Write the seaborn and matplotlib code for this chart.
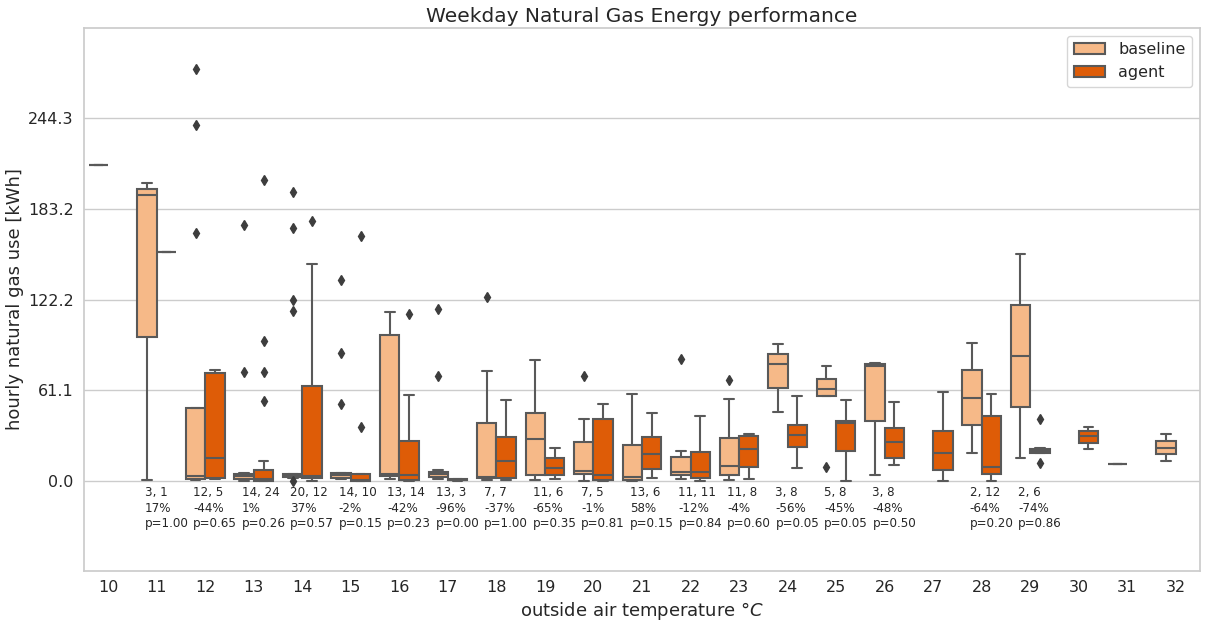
import numpy as np
import pandas as pd
import matplotlib
matplotlib.use('Agg')
import matplotlib.pyplot as plt
import seaborn as sns

# outside air temperature categories
temps = list(range(10, 33))

# hourly natural gas use [kWh] per temperature
baseline_use = {
    10: [212.7],
    11: [0.9, 192.7, 200.9],
    12: [0.6, 1.0, 1.4, 1.7, 2.5, 3.2, 4.2, 6.0, 10.3, 167.1, 239.6, 277.3],
    13: [0.3, 0.8, 1.2, 1.4, 1.9, 2.6, 3.4, 4.0, 4.3, 4.5, 4.7, 5.2, 73.3, 172.2],
    14: [0.0, 2.4, 2.7, 2.9, 3.0, 3.1, 3.3, 3.5, 3.6, 3.8, 3.9, 4.1, 4.3, 4.5, 4.6, 4.8,
         114.6, 122.0, 170.2, 194.5],
    15: [1.3, 1.8, 2.1, 2.3, 2.7, 3.4, 4.2, 4.6, 4.9, 5.1, 5.37, 51.8, 86.1, 135.4],
    16: [1.5, 2.5, 3.2, 3.7, 4.0, 4.4, 4.8, 5.5, 40.0, 98.6, 104.0, 110.0, 114.1],
    17: [1.5, 2.2, 2.6, 2.8, 3.6, 4.5, 5.1, 5.5, 6.0, 6.4, 7.8, 70.6, 115.7],
    18: [0.8, 1.7, 2.3, 2.8, 4.2, 74.2, 123.8],
    19: [0.8, 2.0, 3.5, 5.3, 15.0, 28.6, 35.0, 42.0, 49.8, 62.0, 81.6],
    20: [0.1, 4.6, 5.6, 7.1, 10.7, 42.1, 70.6],
    21: [0.1, 0.3, 0.6, 0.8, 1.3, 2.2, 3.0, 5.0, 12.0, 24.4, 33.0, 45.0, 58.7],
    22: [1.5, 3.0, 4.0, 4.8, 5.5, 6.0, 9.0, 14.5, 18.5, 20.5, 82.0],
    23: [0.8, 2.5, 3.8, 5.0, 7.0, 10.0, 16.0, 25.0, 33.6, 55.3, 67.9],
    24: [46.8, 79.1, 92.6],
    25: [9.6, 57.4, 61.9, 68.8, 77.6],
    26: [3.8, 77.8, 79.3],
    28: [19.2, 93.0],
    29: [15.8, 152.9],
    31: [11.8],
    32: [13.8, 18.5, 22.6, 27.3, 32.0],
}

agent_use = {
    11: [154.4],
    12: [1.5, 2.4, 15.8, 73.1, 75.1],
    13: [0.0, 0.0, 0.0, 0.1, 0.1, 0.2, 0.2, 0.4, 0.6, 0.9, 1.1, 1.4, 1.6, 2.2, 3.1, 4.0,
         5.2, 7.0, 9.0, 13.8, 53.8, 73.3, 94.2, 202.6],
    14: [0.0, 1.0, 2.0, 2.53, 2.9, 3.2, 4.2, 12.0, 45.0, 121.4, 146.2, 175.2],
    15: [0.0, 0.0, 0.1, 0.2, 0.6, 1.0, 3.4, 5.0, 36.3, 164.8],
    16: [0.0, 0.2, 0.5, 0.7, 1.1, 2.0, 3.6, 4.8, 9.0, 20.0, 29.7, 41.0, 58.0, 112.6],
    17: [0.4, 0.9, 1.4],
    18: [0.8, 1.8, 3.0, 13.6, 22.0, 38.0, 54.9],
    19: [1.5, 3.8, 6.2, 11.6, 17.2, 22.6],
    20: [0.0, 0.8, 4.4, 42.1, 52.2],
    21: [2.2, 6.0, 15.6, 21.0, 33.0, 46.1],
    22: [0.0, 1.5, 2.0, 2.8, 4.5, 6.4, 9.0, 17.0, 22.4, 33.0, 44.1],
    23: [1.7, 6.0, 11.1, 19.0, 24.8, 30.0, 31.6, 32.0],
    24: [9.1, 18.4, 24.8, 29.5, 33.1, 36.0, 43.2, 57.4],
    25: [0.1, 14.0, 22.7, 38.4, 39.6, 40.3, 41.9, 54.9],
    26: [11.1, 14.0, 16.4, 24.0, 28.8, 34.0, 41.2, 53.3],
    27: [0.3, 7.5, 19.2, 33.7, 60.0],
    28: [0.3, 2.0, 4.0, 5.07, 7.0, 8.6, 10.6, 25.0, 41.0, 53.4, 56.0, 58.7],
    29: [12.5, 18.63, 19.7, 20.5, 22.37, 41.7],
    30: [21.5, 25.9, 30.2, 33.6, 36.3],
}

# annotation: change in use and p-value per temperature
annot_temps = [11, 12, 13, 14, 15, 16, 17, 18, 19, 20, 21, 22, 23, 24, 25, 26, 28, 29]
pct_change = [17, -44, 1, 37, -2, -42, -96, -37, -65, -1, 58, -12, -4, -56, -45, -48, -64, -74]
p_values = [1.00, 0.65, 0.26, 0.57, 0.15, 0.23, 0.00, 1.00, 0.35, 0.81, 0.15, 0.84, 0.60,
            0.05, 0.05, 0.50, 0.20, 0.86]

ytick_vals = [0.0, 61.075, 122.15, 183.225, 244.3]
ytick_labels = ['0.0', '61.1', '122.2', '183.2', '244.3']

rows = []
for t, vals in baseline_use.items():
    for v in vals:
        rows.append((str(t), 'baseline', v))
for t, vals in agent_use.items():
    for v in vals:
        rows.append((str(t), 'agent', v))
df = pd.DataFrame(rows, columns=['temp', 'mode', 'use'])

sns.set_theme(style='whitegrid')
plt.rcParams['axes.edgecolor'] = '#cccccc'
plt.rcParams['grid.color'] = '#cccccc'

fig, ax = plt.subplots(figsize=(12.07, 6.29), dpi=100)
fig.subplots_adjust(left=0.0696, right=0.9942, top=0.9555, bottom=0.0922)

line_gray = '#595959'
sns.boxplot(data=df, x='temp', y='use', hue='mode',
            order=[str(t) for t in temps], hue_order=['baseline', 'agent'],
            palette={'baseline': '#f6b988', 'agent': '#de5c07'},
            saturation=1, width=0.8, linewidth=1.5, linecolor=line_gray,
            flierprops=dict(marker='d', markersize=5, markerfacecolor='#3d3d3d',
                            markeredgecolor='#3d3d3d'),
            ax=ax)

for t, pct, p in zip(annot_temps, pct_change, p_values):
    i = temps.index(t)
    nb = len(baseline_use.get(t, []))
    na = len(agent_use.get(t, []))
    ax.text(i - 0.25, -3.5, f"{nb}, {na}\n{pct}%\np={p:.2f}",
            ha='left', va='top', fontsize=8.6, color='#262626', linespacing=1.25)

ax.set_ylim(-60.5, 305)
ax.set_xlim(-0.5, len(temps) - 0.5)
ax.set_yticks(ytick_vals)
ax.set_yticklabels(ytick_labels)
ax.tick_params(axis='both', labelsize=11.5, length=0)
ax.tick_params(axis='x', pad=6.5)
ax.tick_params(axis='y', pad=7.5)
ax.set_title('Weekday Natural Gas Energy performance', fontsize=14.5, pad=4.5)
ax.set_xlabel(r'outside air temperature °$C$', fontsize=13, labelpad=3.5)
ax.set_ylabel('hourly natural gas use [kWh]', fontsize=13, labelpad=2.5)
sns.move_legend(ax, 'upper right', title=None, fontsize=11.5)

plt.savefig('out.png', dpi=100)
